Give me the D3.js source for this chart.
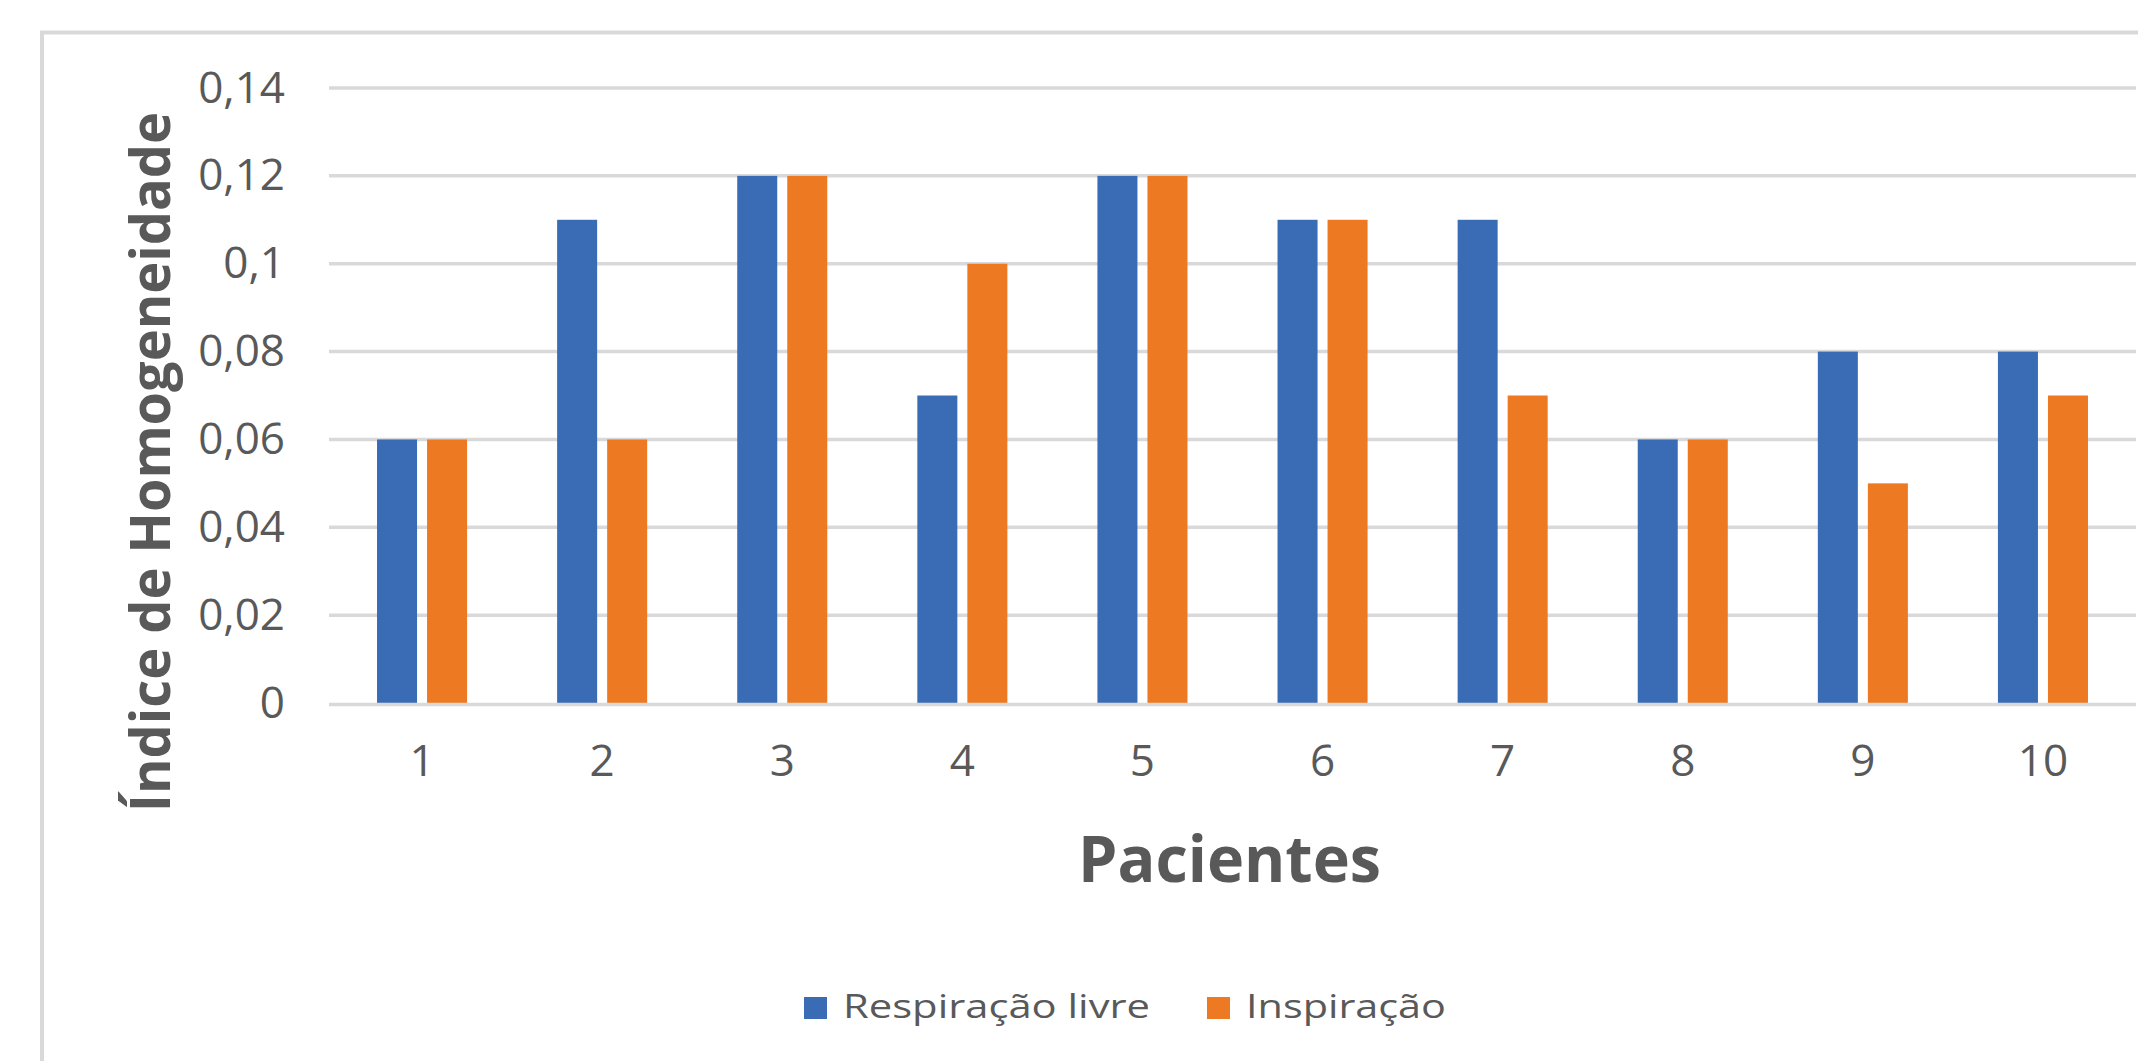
<!DOCTYPE html>
<html>
<head>
<meta charset="utf-8">
<script src="https://cdn.jsdelivr.net/npm/d3@7"></script>
<style>
    body { margin: 0; background: #fff; }
    text { font-family: "Open Sans", sans-serif; fill: #595959; }
</style>
</head>
<body>
<div id="chart"></div>
<script>
// data
var pacientes = ["1", "2", "3", "4", "5", "6", "7", "8", "9", "10"];
var respiracaoLivre = [0.06, 0.11, 0.12, 0.07, 0.12, 0.11, 0.11, 0.06, 0.08, 0.08];
var inspiracao = [0.06, 0.06, 0.12, 0.10, 0.12, 0.11, 0.07, 0.06, 0.05, 0.07];
var seriesNames = ["Respiração livre", "Inspiração"];
var yTicks = [0, 0.02, 0.04, 0.06, 0.08, 0.10, 0.12, 0.14];
var colors = ["#3a6cb5", "#ed7a23"];

var width = 2138, height = 1061;
var margin = { top: 88, right: 5, bottom: 358, left: 332 };

var rows = pacientes.map(function (p, i) {
    return { p: p, values: [respiracaoLivre[i], inspiracao[i]] };
});

var x0 = d3.scaleBand()
    .domain(pacientes)
    .range([margin.left, width - margin.right]);

var x1 = d3.scaleBand()
    .domain([0, 1])
    .range([x0.bandwidth() * 0.25, x0.bandwidth() * 0.75])
    .paddingInner(0.2);

var y = d3.scaleLinear()
    .domain([0, 0.14])
    .range([height - margin.bottom, margin.top]);

var ptBR = d3.formatLocale({ decimal: ",", thousands: ".", grouping: [3], currency: ["", ""] });
var fmt = ptBR.format("~g");

const svg = d3.select("#chart").append("svg")
    .attr("width", width)
    .attr("height", height);

// chart frame (only top and left edges are visible)
svg.append("rect")
    .attr("x", 42)
    .attr("y", 32.5)
    .attr("width", width + 50)
    .attr("height", height + 50)
    .attr("fill", "none")
    .attr("stroke", "#d9d9d9")
    .attr("stroke-width", 4);

// grid
var gridLeft = margin.left - 3;
svg.append("g")
    .selectAll("line")
    .data(yTicks.slice(1))
    .join("line")
    .attr("x1", gridLeft)
    .attr("x2", width - 2)
    .attr("y1", d => y(d))
    .attr("y2", d => y(d))
    .attr("stroke", "#d9d9d9")
    .attr("stroke-width", 3.5);

// bars
svg.append("g")
    .selectAll("g")
    .data(rows)
    .join("g")
    .attr("transform", d => "translate(" + x0(d.p) + ",0)")
    .selectAll("rect")
    .data(d => d.values.map((v, k) => ({ k: k, v: v })))
    .join("rect")
    .attr("x", d => x1(d.k))
    .attr("width", x1.bandwidth())
    .attr("y", d => y(d.v))
    .attr("height", d => y(0) - y(d.v))
    .attr("fill", d => colors[d.k]);

// baseline on top of bars
svg.append("line")
    .attr("x1", gridLeft)
    .attr("x2", width - 2)
    .attr("y1", y(0) + 1.5)
    .attr("y2", y(0) + 1.5)
    .attr("stroke", "#d9d9d9")
    .attr("stroke-width", 3.5);

// y axis
var yAxis = svg.append("g")
    .attr("transform", "translate(" + gridLeft + ",0)")
    .call(d3.axisLeft(y).tickValues(yTicks).tickFormat(fmt).tickSize(0).tickPadding(44));
yAxis.select(".domain").remove();
yAxis.selectAll("text")
    .style("font-family", "'Open Sans', sans-serif")
    .style("font-size", "44px")
    .attr("fill", "#595959");

// x axis
var xAxis = svg.append("g")
    .attr("transform", "translate(0," + y(0) + ")")
    .call(d3.axisBottom(x0).tickSize(0).tickPadding(42));
xAxis.select(".domain").remove();
xAxis.selectAll("text")
    .style("font-family", "'Open Sans', sans-serif")
    .style("font-size", "44px")
    .attr("fill", "#595959");

// axis titles
svg.append("text")
    .attr("x", (margin.left + width - margin.right) / 2 - 3)
    .attr("y", 882)
    .attr("text-anchor", "middle")
    .attr("textLength", 303)
    .attr("lengthAdjust", "spacingAndGlyphs")
    .style("font-size", "64px")
    .style("font-weight", "bold")
    .text("Pacientes");

svg.append("text")
    .attr("transform", "translate(170,462) rotate(-90)")
    .attr("text-anchor", "middle")
    .attr("textLength", 700)
    .attr("lengthAdjust", "spacingAndGlyphs")
    .style("font-size", "56px")
    .style("font-weight", "bold")
    .text("Índice de Homogeneidade");

// legend
var legendW = [307, 200];
var legend = svg.append("g")
    .attr("transform", "translate(804,997)");

var item = legend.selectAll("g")
    .data(seriesNames)
    .join("g")
    .attr("transform", (d, i) => "translate(" + (i * 403) + ",0)");

item.append("rect")
    .attr("width", 23)
    .attr("height", 22)
    .attr("fill", (d, i) => colors[i]);

item.append("text")
    .attr("x", 39)
    .attr("y", 21)
    .attr("textLength", (d, i) => legendW[i])
    .attr("lengthAdjust", "spacingAndGlyphs")
    .style("font-size", "33px")
    .text(d => d);
</script>
</body>
</html>
